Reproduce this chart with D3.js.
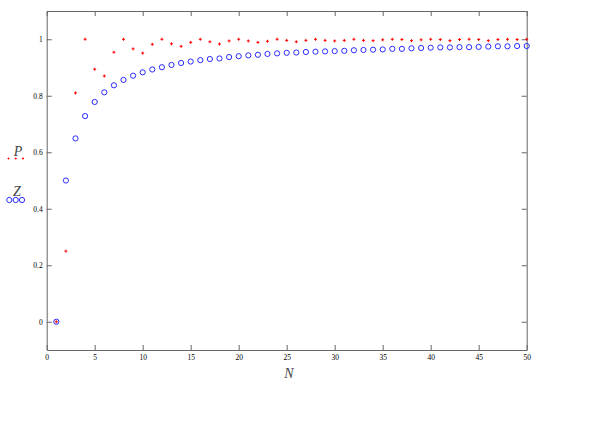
<!DOCTYPE html>
<html>
<head>
<meta charset="utf-8">
<script src="https://cdn.jsdelivr.net/npm/d3@7"></script>
<style>
  body { margin: 0; background: #fff; }
  .axis path, .axis line { stroke: #666; }
</style>
</head>
<body>
<div id="chart"></div>
<script>
var width = 604
var height = 431
var plot = {left: 46.7, right: 526.7, top: 11, bottom: 350}

// x values
var nValues = [1,2,3,4,5,6,7,8,9,10,11,12,13,14,15,16,17,18,19,20,
               21,22,23,24,25,26,27,28,29,30,31,32,33,34,35,36,37,38,39,40,
               41,42,43,44,45,46,47,48,49,50]
// red "+" series
var pValues = [0, 0.25, 0.81, 1, 0.894, 0.87, 0.954, 1, 0.966, 0.951,
               0.982, 1, 0.984, 0.975, 0.989, 1, 0.991, 0.983, 0.994, 1,
               0.994, 0.989, 0.993, 1, 0.996, 0.991, 0.996, 1, 0.996, 0.994,
               0.996, 1, 0.996, 0.995, 0.998, 1, 0.999, 0.995, 0.998, 1,
               0.999, 0.995, 0.999, 1, 0.999, 0.995, 0.999, 1, 0.999, 1]
// blue circle series
var zValues = [0, 0.5, 0.649, 0.728, 0.778, 0.812, 0.837, 0.856, 0.871, 0.883,
               0.893, 0.901, 0.909, 0.916, 0.921, 0.926, 0.930, 0.932, 0.937, 0.940,
               0.943, 0.945, 0.948, 0.950, 0.952, 0.953, 0.955, 0.956, 0.957, 0.958,
               0.959, 0.961, 0.962, 0.963, 0.964, 0.966, 0.966, 0.968, 0.969, 0.970,
               0.971, 0.971, 0.972, 0.972, 0.973, 0.974, 0.975, 0.975, 0.976, 0.976]

var xTicks = [0,5,10,15,20,25,30,35,40,45,50]
var yTicks = [0,0.2,0.4,0.6,0.8,1]
var xDomain = [0,50]
var yDomain = [-0.1,1.1]

var serif = '"Liberation Serif", "DejaVu Serif", serif'

var svg = d3.select('#chart')
      .append('svg')
      .attr('width', width)
      .attr('height', height)

var xScale = d3.scaleLinear().domain(xDomain).range([plot.left, plot.right])
var yScale = d3.scaleLinear().domain(yDomain).range([plot.bottom, plot.top])

var fmt = function(d){ return d3.format('~g')(d) }

// axes on all four sides, ticks pointing inward
var axisB = d3.axisBottom(xScale).tickValues(xTicks).tickSizeInner(-5).tickSizeOuter(0).tickPadding(5).tickFormat(fmt)
var axisT = d3.axisTop(xScale).tickValues(xTicks).tickSizeInner(-5).tickSizeOuter(0).tickFormat('')
var axisL = d3.axisLeft(yScale).tickValues(yTicks).tickSizeInner(-5).tickSizeOuter(0).tickPadding(4).tickFormat(fmt)
var axisR = d3.axisRight(yScale).tickValues(yTicks).tickSizeInner(-5).tickSizeOuter(0).tickFormat('')

svg.append('g').attr('class','axis')
    .attr('transform','translate(0,' + plot.bottom + ')')
    .call(axisB)
svg.append('g').attr('class','axis')
    .attr('transform','translate(0,' + plot.top + ')')
    .call(axisT)
svg.append('g').attr('class','axis')
    .attr('transform','translate(' + plot.left + ',0)')
    .call(axisL)
svg.append('g').attr('class','axis')
    .attr('transform','translate(' + plot.right + ',0)')
    .call(axisR)

svg.selectAll('.axis')
    .attr('font-family', serif)
    .attr('font-size', 7.5)

var plus = 'M-1.5,0H1.5M0,-1.5V1.5'

// Z circles
svg.append('g').selectAll('circle')
    .data(nValues)
    .enter()
    .append('circle')
    .attr('cx', function(d){ return xScale(d) })
    .attr('cy', function(d,i){ return yScale(zValues[i]) })
    .attr('r', 2.6)
    .attr('fill','none')
    .attr('stroke','#2a2aff')
    .attr('stroke-width',1)

// P pluses
svg.append('g').selectAll('path')
    .data(nValues)
    .enter()
    .append('path')
    .attr('d', plus)
    .attr('transform', function(d,i){ return 'translate(' + xScale(d) + ',' + yScale(pValues[i]) + ')' })
    .attr('stroke','#ff0000')
    .attr('stroke-width',1)
    .attr('fill','none')

// axis title
svg.append('text')
    .attr('x', 289).attr('y', 378)
    .attr('text-anchor','middle')
    .attr('fill','#444')
    .style('font-family', serif)
    .style('font-style','italic')
    .style('font-size','14px')
    .text('N')

// legend
var legend = svg.append('g')
legend.append('text')
    .attr('x', 18).attr('y', 156)
    .attr('text-anchor','middle')
    .attr('fill','#444')
    .style('font-family', serif)
    .style('font-style','italic')
    .style('font-size','14px')
    .text('P')
legend.selectAll('.ldot').data([8.5,15.7,23]).enter()
    .append('path').attr('class','ldot')
    .attr('d','M-1,0H1M0,-1V1')
    .attr('transform', function(d){ return 'translate(' + d + ',158.5)' })
    .attr('stroke','#ff0000')
legend.append('text')
    .attr('x', 17).attr('y', 196)
    .attr('text-anchor','middle')
    .attr('fill','#444')
    .style('font-family', serif)
    .style('font-style','italic')
    .style('font-size','14px')
    .text('Z')
legend.selectAll('.lcirc').data([9.3,15.7,22]).enter()
    .append('circle').attr('class','lcirc')
    .attr('cx', function(d){ return d }).attr('cy', 200)
    .attr('r', 2.6)
    .attr('fill','none')
    .attr('stroke','#2a2aff')
</script>
</body>
</html>
